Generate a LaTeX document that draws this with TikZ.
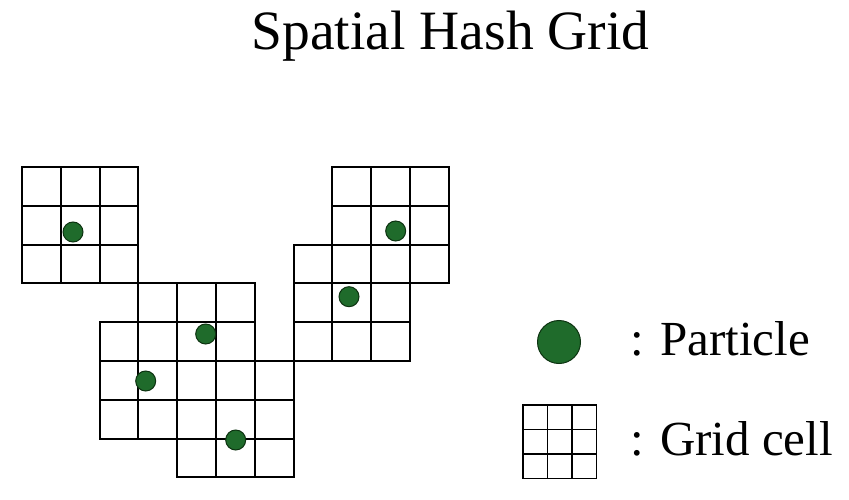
\documentclass[tikz,border=0pt]{standalone}
\usepackage{fontspec}
\setmainfont{Liberation Serif}
\definecolor{pfill}{HTML}{1F6B2B}
\definecolor{pline}{HTML}{0D3311}
\tikzset{
  x=1pt, y=-1pt,
  gridline/.style={line width=2pt, black},
  legline/.style={line width=1.4pt, black},
  particle/.style={circle, draw=pline, fill=pfill, line width=1pt, minimum size=20pt, inner sep=0pt},
  bigparticle/.style={particle, minimum size=43pt},
  lbl/.style={anchor=base west, inner sep=0pt, font=\fontsize{49}{55}\selectfont},
  pics/block/.style={code={
    \foreach \i in {0,1,2,3}{
      \draw[gridline, line cap=rect] (\i*38.8,0) -- (\i*38.8,116.4);
      \draw[gridline, line cap=rect] (0,\i*38.8) -- (116.4,\i*38.8);
    }}},
  pics/legblock/.style={code={
    \foreach \i in {0,1,2,3}{
      \draw[legline, line cap=rect] (\i*24.5,0) -- (\i*24.5,73.5);
      \draw[legline, line cap=rect] (0,\i*24.5) -- (73.5,\i*24.5);
    }}}
}
\newcommand{\gblock}[2]{\pic at ({22+38.8*#1},{167+38.8*#2}) {block};}
\begin{document}
\begin{tikzpicture}
\useasboundingbox (0,0) rectangle (849,500);
% title
\node[anchor=base, inner sep=0pt, font=\fontsize{55.5}{62}\selectfont] (title) at (450.5,50) {Spatial Hash Grid};
% grid blocks
\gblock{0}{0}
\gblock{3}{3}
\gblock{2}{4}
\gblock{4}{5}
\gblock{8}{0}
\gblock{7}{2}
% particles
\node[particle] (p1) at (73,232) {};
\node[particle] (p2) at (205.7,334) {};
\node[particle] (p3) at (145.7,381) {};
\node[particle] (p4) at (235.7,440) {};
\node[particle] (p5) at (395.7,231) {};
\node[particle] (p6) at (349,296.7) {};
% legend
\node[bigparticle] (lp) at (559,342) {};
\node[lbl] (lpt) at (630,355) {: Particle};
\pic at (523,405) {legblock};
\node[lbl] (lgt) at (630,455) {: Grid cell};
\end{tikzpicture}
\end{document}
